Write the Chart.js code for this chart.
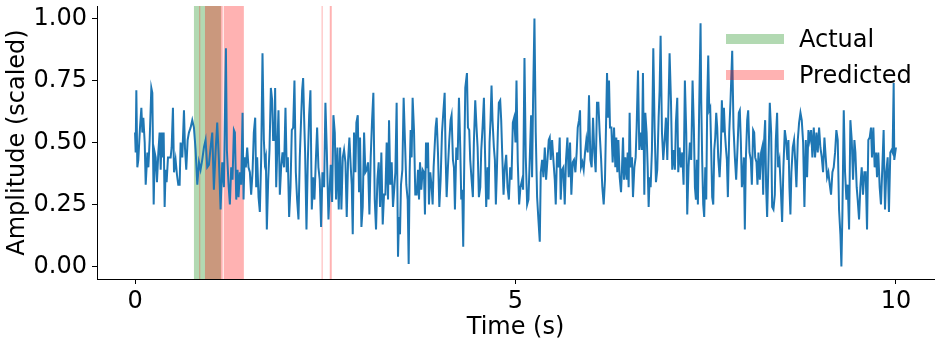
<!DOCTYPE html>
<html>
<head>
<meta charset="utf-8">
<script src="https://cdn.jsdelivr.net/npm/chart.js@4"></script>
<style>
  html, body { margin: 0; padding: 0; background: #fff; }
  #wrap { width: 940px; height: 345px; }
</style>
</head>
<body>
<div id="wrap"><canvas id="myChart" width="940" height="345"></canvas></div>
<script>
// signal (seconds, scaled amplitude)
const timeS = [
  0.000, 0.008, 0.017, 0.030, 0.043, 0.065, 0.083, 0.096, 0.109, 0.127, 0.140, 0.162, 0.175, 0.192, 0.214, 0.227,
  0.245, 0.258, 0.271, 0.288, 0.306, 0.323, 0.337, 0.350, 0.358, 0.376, 0.389, 0.402, 0.415, 0.433, 0.450, 0.468,
  0.481, 0.498, 0.512, 0.533, 0.551, 0.568, 0.586, 0.599, 0.621, 0.643, 0.656, 0.673, 0.691, 0.708, 0.730, 0.752,
  0.774, 0.796, 0.818, 0.840, 0.861, 0.883, 0.905, 0.927, 0.949, 0.971, 0.993, 1.015, 1.036, 1.058, 1.080, 1.102,
  1.124, 1.146, 1.168, 1.194, 1.207, 1.229, 1.246, 1.264, 1.281, 1.299, 1.312, 1.330, 1.347, 1.360, 1.378, 1.395,
  1.413, 1.426, 1.439, 1.456, 1.474, 1.491, 1.509, 1.526, 1.544, 1.561, 1.579, 1.592, 1.605, 1.623, 1.640, 1.658,
  1.675, 1.693, 1.706, 1.719, 1.732, 1.750, 1.767, 1.785, 1.802, 1.815, 1.833, 1.841, 1.855, 1.872, 1.885, 1.903,
  1.920, 1.938, 1.959, 1.977, 1.994, 2.008, 2.025, 2.043, 2.060, 2.078, 2.095, 2.113, 2.130, 2.148, 2.165, 2.183,
  2.196, 2.209, 2.222, 2.235, 2.253, 2.270, 2.288, 2.305, 2.323, 2.340, 2.358, 2.375, 2.393, 2.410, 2.427, 2.445,
  2.463, 2.485, 2.502, 2.520, 2.542, 2.559, 2.572, 2.590, 2.607, 2.625, 2.642, 2.660, 2.677, 2.695, 2.712, 2.730,
  2.747, 2.765, 2.782, 2.800, 2.817, 2.835, 2.848, 2.861, 2.878, 2.896, 2.909, 2.927, 2.944, 2.957, 2.975, 2.992,
  3.010, 3.027, 3.045, 3.062, 3.080, 3.097, 3.115, 3.132, 3.150, 3.167, 3.185, 3.202, 3.220, 3.237, 3.255, 3.272,
  3.290, 3.307, 3.325, 3.338, 3.355, 3.373, 3.390, 3.408, 3.421, 3.438, 3.456, 3.469, 3.482, 3.495, 3.513, 3.530,
  3.548, 3.565, 3.583, 3.596, 3.609, 3.622, 3.635, 3.648, 3.666, 3.683, 3.701, 3.719, 3.732, 3.745, 3.762, 3.780,
  3.797, 3.810, 3.824, 3.837, 3.850, 3.863, 3.880, 3.898, 3.911, 3.924, 3.937, 3.950, 3.964, 3.981, 3.999, 4.016,
  4.034, 4.051, 4.069, 4.082, 4.095, 4.112, 4.130, 4.147, 4.160, 4.178, 4.191, 4.204, 4.222, 4.239, 4.257, 4.274,
  4.287, 4.300, 4.313, 4.327, 4.340, 4.362, 4.375, 4.392, 4.405, 4.423, 4.440, 4.453, 4.471, 4.488, 4.502, 4.519,
  4.537, 4.550, 4.567, 4.585, 4.598, 4.615, 4.633, 4.646, 4.659, 4.672, 4.685, 4.698, 4.716, 4.729, 4.742, 4.755,
  4.768, 4.781, 4.799, 4.812, 4.825, 4.843, 4.860, 4.878, 4.895, 4.913, 4.930, 4.947, 4.965, 4.982, 5.000, 5.013,
  5.030, 5.048, 5.065, 5.087, 5.100, 5.118, 5.135, 5.153, 5.170, 5.188, 5.205, 5.218, 5.231, 5.249, 5.266, 5.284,
  5.301, 5.319, 5.332, 5.350, 5.367, 5.385, 5.402, 5.420, 5.437, 5.450, 5.463, 5.481, 5.498, 5.516, 5.529, 5.546,
  5.564, 5.581, 5.594, 5.612, 5.629, 5.647, 5.664, 5.682, 5.699, 5.717, 5.734, 5.752, 5.769, 5.787, 5.804, 5.818,
  5.835, 5.848, 5.861, 5.879, 5.896, 5.914, 5.931, 5.949, 5.966, 5.984, 6.001, 6.019, 6.036, 6.054, 6.071, 6.089,
  6.106, 6.124, 6.141, 6.159, 6.176, 6.203, 6.216, 6.229, 6.242, 6.260, 6.277, 6.295, 6.312, 6.325, 6.338, 6.352,
  6.369, 6.387, 6.400, 6.413, 6.426, 6.443, 6.461, 6.474, 6.487, 6.500, 6.513, 6.531, 6.544, 6.562, 6.579, 6.592,
  6.610, 6.627, 6.645, 6.662, 6.675, 6.693, 6.706, 6.723, 6.737, 6.750, 6.763, 6.776, 6.793, 6.811, 6.828, 6.846,
  6.863, 6.881, 6.894, 6.907, 6.925, 6.942, 6.960, 6.977, 6.995, 7.012, 7.025, 7.043, 7.060, 7.078, 7.095, 7.108,
  7.126, 7.139, 7.156, 7.174, 7.191, 7.209, 7.226, 7.244, 7.257, 7.274, 7.292, 7.309, 7.327, 7.344, 7.358, 7.371,
  7.384, 7.397, 7.414, 7.432, 7.441, 7.454, 7.467, 7.480, 7.494, 7.507, 7.520, 7.533, 7.546, 7.559, 7.572, 7.585,
  7.599, 7.612, 7.625, 7.638, 7.651, 7.664, 7.682, 7.699, 7.712, 7.725, 7.739, 7.752, 7.765, 7.778, 7.791, 7.809,
  7.826, 7.848, 7.865, 7.883, 7.900, 7.918, 7.935, 7.948, 7.962, 7.975, 7.988, 8.001, 8.014, 8.027, 8.045, 8.058,
  8.075, 8.093, 8.106, 8.123, 8.137, 8.150, 8.167, 8.180, 8.193, 8.211, 8.228, 8.242, 8.255, 8.268, 8.281, 8.294,
  8.307, 8.325, 8.342, 8.360, 8.373, 8.390, 8.408, 8.421, 8.438, 8.451, 8.469, 8.486, 8.504, 8.521, 8.539, 8.556,
  8.574, 8.587, 8.600, 8.613, 8.626, 8.644, 8.661, 8.675, 8.692, 8.710, 8.727, 8.745, 8.762, 8.780, 8.797, 8.815,
  8.832, 8.850, 8.867, 8.885, 8.902, 8.920, 8.937, 8.955, 8.972, 8.990, 9.007, 9.025, 9.042, 9.060, 9.077, 9.095,
  9.112, 9.130, 9.147, 9.165, 9.182, 9.200, 9.217, 9.235, 9.252, 9.270, 9.283, 9.296, 9.314, 9.331, 9.349, 9.366,
  9.384, 9.401, 9.419, 9.436, 9.454, 9.467, 9.484, 9.497, 9.515, 9.532, 9.550, 9.567, 9.585, 9.602, 9.620, 9.637,
  9.655, 9.672, 9.685, 9.703, 9.720, 9.738, 9.751, 9.768, 9.786, 9.803, 9.821, 9.838, 9.856, 9.873, 9.891, 9.908,
  9.926, 9.943, 9.956, 9.970, 9.978, 10.000
];
const amplitude = [
  0.54, 0.46, 0.71, 0.40, 0.43, 0.56, 0.64, 0.54, 0.60, 0.50, 0.33, 0.46, 0.40, 0.51, 0.72, 0.70,
  0.25, 0.46, 0.44, 0.34, 0.46, 0.54, 0.39, 0.54, 0.44, 0.54, 0.24, 0.39, 0.34, 0.44, 0.44, 0.44,
  0.48, 0.64, 0.38, 0.43, 0.37, 0.33, 0.33, 0.50, 0.44, 0.63, 0.48, 0.39, 0.51, 0.54, 0.56, 0.59,
  0.56, 0.47, 0.33, 0.42, 0.39, 0.43, 0.48, 0.51, 0.40, 0.41, 0.48, 0.54, 0.31, 0.46, 0.58, 0.43,
  0.23, 0.42, 0.32, 0.88, 0.47, 0.33, 0.25, 0.40, 0.35, 0.55, 0.54, 0.27, 0.39, 0.28, 0.38, 0.33,
  0.62, 0.27, 0.44, 0.40, 0.48, 0.40, 0.38, 0.29, 0.38, 0.54, 0.60, 0.32, 0.44, 0.28, 0.22, 0.44,
  0.86, 0.51, 0.42, 0.44, 0.15, 0.35, 0.47, 0.72, 0.67, 0.51, 0.51, 0.72, 0.32, 0.50, 0.63, 0.29,
  0.40, 0.46, 0.40, 0.64, 0.38, 0.44, 0.20, 0.32, 0.55, 0.56, 0.75, 0.38, 0.27, 0.19, 0.44, 0.60,
  0.71, 0.76, 0.60, 0.46, 0.15, 0.42, 0.61, 0.71, 0.23, 0.36, 0.27, 0.42, 0.56, 0.40, 0.35, 0.16,
  0.38, 0.32, 0.66, 0.47, 0.19, 0.32, 0.41, 0.26, 0.61, 0.54, 0.27, 0.48, 0.23, 0.48, 0.23, 0.44,
  0.47, 0.42, 0.20, 0.43, 0.52, 0.40, 0.33, 0.13, 0.54, 0.38, 0.58, 0.61, 0.30, 0.52, 0.16, 0.24,
  0.54, 0.38, 0.39, 0.42, 0.21, 0.44, 0.59, 0.70, 0.27, 0.15, 0.35, 0.42, 0.24, 0.46, 0.17, 0.29,
  0.29, 0.50, 0.27, 0.59, 0.33, 0.42, 0.24, 0.32, 0.38, 0.66, 0.04, 0.20, 0.13, 0.33, 0.39, 0.68,
  0.50, 0.33, 0.27, 0.01, 0.38, 0.55, 0.44, 0.68, 0.55, 0.29, 0.29, 0.39, 0.27, 0.42, 0.31, 0.39,
  0.38, 0.21, 0.50, 0.40, 0.50, 0.25, 0.38, 0.32, 0.25, 0.40, 0.48, 0.56, 0.60, 0.46, 0.24, 0.35,
  0.54, 0.62, 0.70, 0.44, 0.28, 0.40, 0.51, 0.59, 0.61, 0.43, 0.40, 0.23, 0.48, 0.43, 0.68, 0.48,
  0.27, 0.31, 0.08, 0.43, 0.72, 0.78, 0.56, 0.55, 0.43, 0.35, 0.28, 0.50, 0.67, 0.56, 0.48, 0.28,
  0.32, 0.47, 0.56, 0.68, 0.48, 0.24, 0.40, 0.27, 0.50, 0.59, 0.73, 0.59, 0.48, 0.43, 0.25, 0.38,
  0.54, 0.66, 0.67, 0.59, 0.46, 0.29, 0.40, 0.45, 0.32, 0.27, 0.40, 0.35, 0.58, 0.60, 0.50, 0.75,
  0.42, 0.25, 0.32, 0.35, 0.31, 0.84, 0.44, 0.25, 0.27, 0.44, 0.61, 0.36, 0.67, 1.00, 0.54, 0.28,
  0.19, 0.10, 0.38, 0.43, 0.36, 0.48, 0.35, 0.43, 0.51, 0.52, 0.43, 0.51, 0.43, 0.35, 0.25, 0.46,
  0.40, 0.52, 0.27, 0.39, 0.40, 0.25, 0.43, 0.52, 0.36, 0.50, 0.29, 0.42, 0.43, 0.38, 0.46, 0.56,
  0.59, 0.63, 0.40, 0.42, 0.39, 0.46, 0.51, 0.46, 0.69, 0.43, 0.40, 0.60, 0.46, 0.38, 0.66, 0.66,
  0.54, 0.44, 0.32, 0.25, 0.35, 0.78, 0.60, 0.75, 0.56, 0.56, 0.42, 0.56, 0.40, 0.52, 0.38, 0.51,
  0.36, 0.30, 0.40, 0.52, 0.35, 0.44, 0.35, 0.46, 0.32, 0.62, 0.40, 0.44, 0.28, 0.40, 0.44, 0.56,
  0.79, 0.47, 0.54, 0.47, 0.78, 0.29, 0.62, 0.54, 0.40, 0.24, 0.36, 0.32, 0.47, 0.88, 0.56, 0.34,
  0.39, 0.60, 0.71, 0.93, 0.54, 0.43, 0.51, 0.60, 0.43, 0.67, 0.86, 0.67, 0.39, 0.47, 0.39, 0.58,
  0.68, 0.38, 0.48, 0.40, 0.46, 0.33, 0.75, 0.54, 0.21, 0.40, 0.50, 0.43, 0.75, 0.56, 0.32, 0.27,
  0.43, 0.25, 0.64, 0.98, 0.67, 0.42, 0.25, 0.20, 0.40, 0.27, 0.67, 0.85, 0.63, 0.64, 0.47, 0.28,
  0.25, 0.47, 0.52, 0.62, 0.56, 0.44, 0.36, 0.47, 0.67, 0.54, 0.64, 0.54, 0.48, 0.43, 0.28, 0.54,
  0.67, 0.87, 0.56, 0.44, 0.35, 0.48, 0.62, 0.63, 0.50, 0.32, 0.36, 0.44, 0.15, 0.43, 0.59, 0.63,
  0.46, 0.43, 0.33, 0.55, 0.54, 0.44, 0.42, 0.33, 0.46, 0.35, 0.46, 0.48, 0.29, 0.51, 0.59, 0.32,
  0.20, 0.43, 0.66, 0.54, 0.24, 0.23, 0.29, 0.51, 0.62, 0.40, 0.43, 0.32, 0.18, 0.40, 0.55, 0.51,
  0.43, 0.51, 0.32, 0.21, 0.38, 0.48, 0.51, 0.43, 0.32, 0.51, 0.58, 0.62, 0.59, 0.50, 0.24, 0.51,
  0.36, 0.55, 0.51, 0.55, 0.44, 0.56, 0.44, 0.54, 0.46, 0.56, 0.48, 0.44, 0.38, 0.52, 0.44, 0.36,
  0.38, 0.33, 0.29, 0.38, 0.40, 0.46, 0.55, 0.51, 0.23, 0.13, 0.00, 0.21, 0.63, 0.38, 0.27, 0.33,
  0.15, 0.59, 0.51, 0.35, 0.51, 0.46, 0.32, 0.27, 0.19, 0.32, 0.40, 0.29, 0.38, 0.38, 0.15, 0.51,
  0.52, 0.56, 0.44, 0.56, 0.40, 0.46, 0.36, 0.46, 0.32, 0.25, 0.40, 0.55, 0.23, 0.38, 0.44, 0.22,
  0.46, 0.47, 0.46, 0.74, 0.43, 0.48
];

// shaded windows (seconds)
const actualStart = [0.774];
const actualEnd = [1.129];
const predictedStart = [0.844, 0.919, 1.165, 2.452, 2.559];
const predictedEnd = [0.853, 1.152, 1.430, 2.462, 2.585];

const xTicks = [0, 5, 10];
const yTicks = [0, 0.25, 0.5, 0.75, 1.0];
const legendLabels = ["Actual", "Predicted"];

const FONT = "DejaVu Sans";
const GREEN = "rgba(0,128,0,0.3)";
const RED = "rgba(255,0,0,0.3)";

const spans = {
  id: "spans",
  beforeDatasetsDraw(chart) {
    const { ctx, chartArea: a, scales: { x } } = chart;
    ctx.save();
    ctx.beginPath();
    ctx.rect(a.left, a.top, a.right - a.left, a.bottom - a.top);
    ctx.clip();
    const fill = (starts, ends, color) => {
      ctx.fillStyle = color;
      starts.forEach((s, i) => {
        const x0 = x.getPixelForValue(s);
        const x1 = x.getPixelForValue(ends[i]);
        ctx.fillRect(x0, a.top, Math.max(x1 - x0, 1), a.bottom - a.top);
      });
    };
    fill(actualStart, actualEnd, GREEN);
    fill(predictedStart, predictedEnd, RED);
    ctx.restore();
  },
};

const spanLegend = {
  id: "spanLegend",
  afterDraw(chart) {
    const { ctx, chartArea: a } = chart;
    const colors = [GREEN, RED];
    ctx.save();
    ctx.font = "24px '" + FONT + "'";
    ctx.textBaseline = "alphabetic";
    legendLabels.forEach((label, i) => {
      const top = a.top + 28 + i * 36;
      ctx.fillStyle = colors[i];
      ctx.fillRect(a.right - 208, top, 58, 10);
      ctx.fillStyle = "#000";
      ctx.fillText(label, a.right - 135, top + 13);
    });
    ctx.restore();
  },
};

const points = timeS.map((t, i) => ({ x: t, y: amplitude[i] }));

const axisCommon = {
  grid: { display: true, drawOnChartArea: false, drawTicks: true, tickLength: 5, color: "#000", lineWidth: 1 },
  border: { display: true, color: "#000", width: 1 },
};

new Chart(document.getElementById("myChart").getContext("2d"), {
  type: "line",
  data: {
    datasets: [
      {
        data: points,
        borderColor: "#1f77b4",
        borderWidth: 2,
        pointRadius: 0,
        tension: 0,
        fill: false,
      },
    ],
  },
  options: {
    responsive: false,
    animation: false,
    layout: { padding: { left: 0, right: 6, top: 6, bottom: 0 } },
    plugins: { legend: { display: false }, tooltip: { enabled: false } },
    scales: {
      x: {
        type: "linear",
        min: -0.5,
        max: 10.5,
        ...axisCommon,
        afterBuildTicks: (s) => { s.ticks = xTicks.map((v) => ({ value: v })); },
        afterFit: (s) => { s.height = 66; s.paddingLeft = 0; s.paddingRight = 0; },
        ticks: {
          color: "#000",
          padding: 3,
          maxRotation: 0,
          font: { family: FONT, size: 24 },
          callback: (v) => String(v),
        },
        title: {
          display: true,
          text: "Time (s)",
          color: "#000",
          font: { family: FONT, size: 24 },
          padding: { top: 0, bottom: 3 },
        },
      },
      y: {
        min: -0.05,
        max: 1.05,
        ...axisCommon,
        afterBuildTicks: (s) => { s.ticks = yTicks.map((v) => ({ value: v })); },
        afterFit: (s) => { s.width = 97; s.paddingTop = 0; s.paddingBottom = 0; },
        ticks: {
          color: "#000",
          padding: 5,
          font: { family: FONT, size: 24 },
          callback: (v) => v.toFixed(2),
        },
        title: {
          display: true,
          text: "Amplitude (scaled)",
          color: "#000",
          font: { family: FONT, size: 24 },
          padding: { top: 3, bottom: 0 },
        },
      },
    },
  },
  plugins: [spans, spanLegend],
});
</script>
</body>
</html>
